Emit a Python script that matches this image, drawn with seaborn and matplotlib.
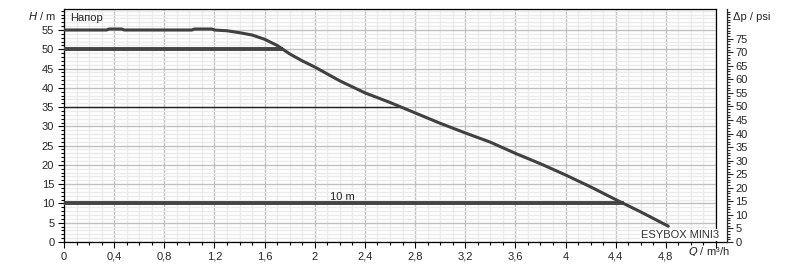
import numpy as np
import pandas as pd
import matplotlib
matplotlib.use("Agg")
import matplotlib.pyplot as plt
from matplotlib.ticker import MultipleLocator, FixedLocator
import seaborn as sns

# ---- data ----
flow_q = [0, 0.34, 0.36, 0.46, 0.48, 1.02, 1.04, 1.18, 1.2, 1.3, 1.4, 1.5, 1.6, 1.7,
          1.8, 1.9, 2.0, 2.2, 2.4, 2.6, 2.8, 3.0, 3.2, 3.4, 3.6, 3.8, 4.0, 4.2,
          4.4, 4.6, 4.82]
head_h = [55, 55, 55.25, 55.25, 55, 55, 55.25, 55.25, 55, 54.8, 54.3, 53.7, 52.6, 51.0,
          48.8, 47.0, 45.4, 41.8, 38.7, 36.2, 33.5, 30.8, 28.3, 25.9, 23.0, 20.3,
          17.4, 14.3, 11.0, 7.8, 4.1]
ref_levels = [50, 35, 10]
x_ticks = [0, 0.4, 0.8, 1.2, 1.6, 2, 2.4, 2.8, 3.2, 3.6, 4, 4.4, 4.8, 5.2]
x_labels = ["0", "0,4", "0,8", "1,2", "1,6", "2", "2,4", "2,8", "3,2", "3,6", "4",
            "4,4", "4,8", ""]
y_ticks = [0, 5, 10, 15, 20, 25, 30, 35, 40, 45, 50, 55]
psi_ticks = [0, 5, 10, 15, 20, 25, 30, 35, 40, 45, 50, 55, 60, 65, 70, 75]
M_PER_PSI = 0.70307

df = pd.DataFrame({"Q": flow_q, "H": head_h})

sns.set_style("white")
plt.rcParams['font.family'] = ['Liberation Sans', 'DejaVu Sans']
plt.rcParams['font.size'] = 8

W, H = 790, 269
fig = plt.figure(figsize=(W / 100, H / 100), dpi=100)
L, R, T, B = 64, 716, 9, 242
ax = fig.add_axes([L / W, 1 - B / H, (R - L) / W, (B - T) / H])

XMAX = 5.2
YMAX = (B - T) / ((B - 30) / 55.0)
ax.set_xlim(0, XMAX)
ax.set_ylim(0, YMAX)

# grid
ax.xaxis.set_major_locator(FixedLocator(x_ticks))
ax.xaxis.set_minor_locator(MultipleLocator(0.1))
ax.yaxis.set_minor_locator(MultipleLocator(1))
ax.grid(which="minor", color="#ebebeb", lw=1.0)
ax.grid(which="major", color="#c0c0c0", lw=1.0)
ax.set_axisbelow(True)

ax.set_xticks(x_ticks)
ax.set_xticklabels(x_labels)
ax.set_yticks(y_ticks)
ax.set_yticklabels([str(v) for v in y_ticks])
ax.tick_params(which="major", direction="out", length=4, width=0.8, color="black",
               labelsize=8, pad=3)
ax.tick_params(which="minor", direction="out", length=2.5, width=0.8, color="black")
ax.tick_params(axis="x", which="both", bottom=True)
ax.tick_params(axis="y", which="both", left=True)
for s in ax.spines.values():
    s.set_color("black")
    s.set_linewidth(0.9)

# reference lines ending at the curve
qa = np.array(flow_q)
ha = np.array(head_h)
dec = np.arange(len(qa)) >= 9
for lev, lw, col in zip(ref_levels, [2.8, 1.0, 2.8], ["#444444", "#222222", "#444444"]):
    qend = np.interp(lev, ha[dec][::-1], qa[dec][::-1])
    ax.plot([0, qend], [lev, lev], color=col, lw=lw, solid_capstyle="butt", zorder=3)

sns.lineplot(data=df, x="Q", y="H", ax=ax, color="#404040", lw=2.2, zorder=4,
             legend=False)
ax.set_xlabel("")
ax.set_ylabel("")

# texts
ax.text(6 / (R - L), 1 - 9 / (B - T), "Напор", transform=ax.transAxes,
        ha="left", va="center", fontsize=8)
ax.text(2.22, 11.6, "10 m", ha="center", va="center", fontsize=8)
ax.text(5.225, 1.8, "ESYBOX MINI3", ha="right", va="center", fontsize=8,
        color="#333333", zorder=6,
        bbox=dict(facecolor="white", edgecolor="none", pad=0.5))
ax.text(-8 / (R - L), (242 - 16) / (B - T),
        "$H$ / m", transform=ax.transAxes, ha="right", va="center", fontsize=8)
ax.text(5.2 - 0.06, -0.8, "$Q$ / m³/h", ha="center", va="top", fontsize=8)

# right psi axis
ax2 = ax.twinx()
ax2.set_ylim(0, YMAX / M_PER_PSI)
ax2.yaxis.set_minor_locator(MultipleLocator(1))
ax2.set_yticks(psi_ticks)
ax2.set_yticklabels([str(v) for v in psi_ticks])
for name in ["top", "left", "bottom"]:
    ax2.spines[name].set_visible(False)
ax2.spines["right"].set_position(("outward", 11 * 0.72))
ax2.spines["right"].set_linewidth(0.9)
ax2.tick_params(which="major", direction="out", length=4, width=0.8, labelsize=8, pad=2)
ax2.tick_params(which="minor", direction="out", length=2.5, width=0.8)
ax2.grid(False)
ax2.text(1 + 17 / (R - L), (B - 17) / (B - T), "Δp / psi", transform=ax.transAxes,
         ha="left", va="center", fontsize=8)
ax.plot([1, 1 + 11 / (R - L)], [0, 0], transform=ax.transAxes, color="black",
        lw=0.9, clip_on=False)

fig.savefig("out.png", dpi=100)
